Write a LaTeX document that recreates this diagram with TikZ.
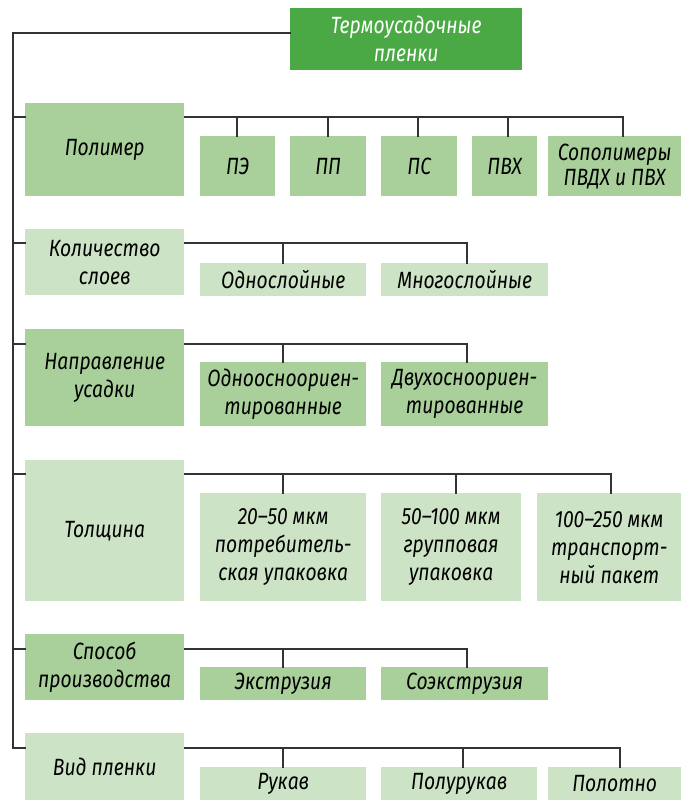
\documentclass[tikz,border=0pt]{standalone}
\usepackage{fontspec}
\setmainfont{Fira Sans}[FakeStretch=0.82]
\usepackage{tikz}
\usetikzlibrary{positioning}
\definecolor{titlegreen}{HTML}{4AA944}
\definecolor{midgreen}{HTML}{A9D09A}
\definecolor{palegreen}{HTML}{CDE3C6}
\definecolor{linkgray}{HTML}{333333}
\tikzset{
  box/.style={anchor=north west,inner sep=0pt,align=center,
    font=\fontsize{23.5}{28}\selectfont\itshape},
  headbox/.style={box,fill=titlegreen,text=white},
  darkbox/.style={box,fill=midgreen},
  lightbox/.style={box,fill=palegreen},
  link/.style={line width=1.4pt,linkgray}
}

\begin{document}
\begin{tikzpicture}[x=1pt,y=-1pt,line cap=rect,line join=miter]
  % ---- page window ----
  \useasboundingbox (0,0) rectangle (681,800);

  % ---- title ----
  \node[headbox,minimum width=232,minimum height=62] (title) at (290,8)
    {Термоусадочные\\пленки};

  % ---- trunk ----
  \coordinate (trunktop) at (13,33);
  \coordinate (trunkbot) at (13,748);
  \draw[link] (title.west |- trunktop) -- (trunktop) -- (trunkbot);

  % ---- polymer ----
  \node[darkbox,minimum width=159,minimum height=93] (poly) at (25,103) {Полимер};
  \node[darkbox,minimum width=75,minimum height=60] (pe) at (200,136) {ПЭ};
  \node[darkbox,minimum width=76,minimum height=60] (pp) at (290,136) {ПП};
  \node[darkbox,minimum width=76,minimum height=60] (ps) at (381,136) {ПС};
  \node[darkbox,minimum width=65,minimum height=60] (pvc) at (472,136) {ПВХ};
  \node[darkbox,minimum width=133,minimum height=60,
    font=\fontsize{23.5}{25}\selectfont\itshape] (copol) at (548,136)
    {Сополимеры\\ПВДХ и ПВХ};
  \coordinate (polyline) at (13,117);
  \draw[link] (polyline) -- (poly.west |- polyline);
  \draw[link] (poly.east |- polyline) -- (623,117) -- (copol.north -| 623,0);
  \foreach \n/\x in {pe/237,pp/328,ps/418,pvc/508}
    \draw[link] (\x,117) -- (\n.north -| \x,0);

  % ---- layers ----
  \node[lightbox,minimum width=159,minimum height=66] (layers) at (25,229)
    {Количество\\слоев};
  \node[lightbox,minimum width=166,minimum height=33] (mono) at (200,263) {Однослойные};
  \node[lightbox,minimum width=167,minimum height=33] (multi) at (381,263) {Многослойные};
  \coordinate (layline) at (13,243);
  \draw[link] (layline) -- (layers.west |- layline);
  \draw[link] (layers.east |- layline) -- (467,243) -- (multi.north -| 467,0);
  \draw[link] (283,243) -- (mono.north -| 283,0);

  % ---- shrink direction ----
  \node[darkbox,minimum width=159,minimum height=97] (shrink) at (25,329)
    {Направление\\усадки};
  \node[darkbox,minimum width=166,minimum height=64] (uni) at (200,362)
    {Одноосноориен-\\тированные};
  \node[darkbox,minimum width=167,minimum height=64] (bi) at (381,362)
    {Двухосноориен-\\тированные};
  \coordinate (shrline) at (13,344);
  \draw[link] (shrline) -- (shrink.west |- shrline);
  \draw[link] (shrink.east |- shrline) -- (467,344) -- (bi.north -| 467,0);
  \draw[link] (283,344) -- (uni.north -| 283,0);

  % ---- thickness ----
  \node[lightbox,minimum width=159,minimum height=141] (thick) at (25,460) {Толщина};
  \node[lightbox,minimum width=166,minimum height=108] (thA) at (200,493)
    {20–50 мкм\\потребитель-\\ская упаковка};
  \node[lightbox,minimum width=140,minimum height=108] (thB) at (381,493)
    {50–100 мкм\\групповая\\упаковка};
  \node[lightbox,minimum width=144,minimum height=108] (thC) at (537,493)
    {100–250 мкм\\транспорт-\\ный пакет};
  \coordinate (thline) at (13,474);
  \draw[link] (thline) -- (thick.west |- thline);
  \draw[link] (thick.east |- thline) -- (611,474) -- (thC.north -| 611,0);
  \draw[link] (283,474) -- (thA.north -| 283,0);
  \draw[link] (456,474) -- (thB.north -| 456,0);

  % ---- production ----
  \node[darkbox,minimum width=159,minimum height=66] (prod) at (25,634)
    {Способ\\производства};
  \node[darkbox,minimum width=166,minimum height=33] (extr) at (200,667) {Экструзия};
  \node[darkbox,minimum width=167,minimum height=33] (coex) at (381,667) {Соэкструзия};
  \coordinate (prline) at (13,649);
  \draw[link] (prline) -- (prod.west |- prline);
  \draw[link] (prod.east |- prline) -- (467,649) -- (coex.north -| 467,0);
  \draw[link] (283,649) -- (extr.north -| 283,0);

  % ---- film type ----
  \node[lightbox,minimum width=159,minimum height=67] (kind) at (25,733) {Вид пленки};
  \node[lightbox,minimum width=166,minimum height=33] (sleeve) at (200,767) {Рукав};
  \node[lightbox,minimum width=156,minimum height=33] (half) at (381,767) {Полурукав};
  \node[lightbox,minimum width=133,minimum height=33] (sheet) at (548,767) {Полотно};
  \draw[link] (trunkbot) -- (kind.west |- trunkbot);
  \draw[link] (kind.east |- trunkbot) -- (620,748) -- (sheet.north -| 620,0);
  \draw[link] (283,748) -- (sleeve.north -| 283,0);
  \draw[link] (463,748) -- (half.north -| 463,0);
\end{tikzpicture}
\end{document}
